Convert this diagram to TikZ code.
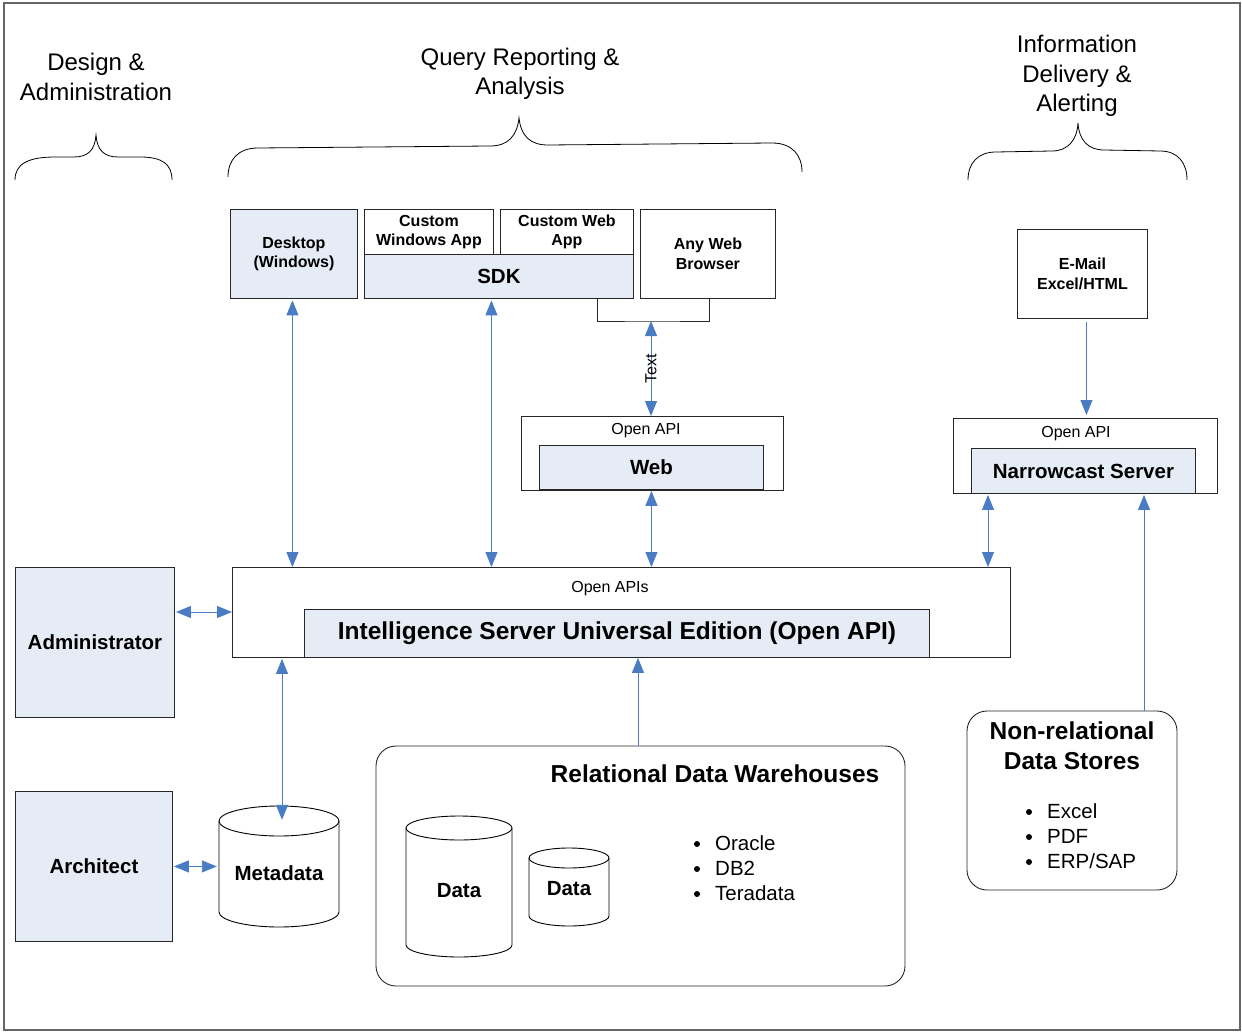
\documentclass[tikz,border=0pt]{standalone}
\usepackage{fontspec}
\setmainfont{Liberation Sans}
\usetikzlibrary{arrows.meta,calc}
\definecolor{lb}{HTML}{E6ECF6}
\definecolor{ab}{HTML}{4A7CC4}
\newcommand{\fs}[1]{\fontsize{#1}{1.22\dimexpr #1pt\relax}\selectfont}
\tikzset{
  box/.style={draw=black!85, line width=0.9pt, inner sep=0pt, anchor=north west, align=center},
  bluebox/.style={box, fill=lb},
  small/.style={font=\fs{16}\bfseries},
  big/.style={font=\fs{20.5}\bfseries},
  lbl/.style={font=\fs{16}, inner sep=0pt},
  head/.style={font=\fs{24}, align=center, inner sep=0pt},
  brace/.style={draw=black, line width=0.8pt},
  tip/.tip={Triangle[length=15pt,width=12pt]},
  dbl/.style={draw=ab, line width=0.9pt, tip-tip},
  sgl/.style={draw=ab, line width=0.9pt, -tip},
  cyl/.style={draw=black, line width=0.9pt, fill=white},
  item/.style={font=\fs{20.5}, anchor=west, inner sep=0pt, text height=14pt, text depth=4pt},
  bul/.style={fill=black}
}
\begin{document}
\begin{tikzpicture}[x=1pt,y=-1pt]
\useasboundingbox (0,0) rectangle (1242,1032);
\draw[black!60, line width=1.2pt] (4,3) rectangle (1240,1030);

% headings
\node[head] (h1) at (96,77) {Design \&\\Administration};
\node[head] (h2) at (520,74) {Query Reporting \&\\Analysis};
\node[head] (h3) at (1077,76) {Information\\Delivery \&\\Alerting};

% braces
\draw[brace] (15,180) .. controls (15,164) and (28,157) .. (55,157) -- (74,157)
  .. controls (88,157) and (95,150) .. (96,135)
  .. controls (97,150) and (104,157) .. (118,157) -- (140,157)
  .. controls (162,157) and (172,164) .. (172,180);
\draw[brace] (228,177) .. controls (228,160) and (238,148) .. (258,148) -- (490,146)
  .. controls (508,146) and (517,136) .. (519,118)
  .. controls (521,136) and (530,145) .. (548,145) -- (772,143)
  .. controls (792,143) and (802,155) .. (802,172);
\draw[brace] (968,180) .. controls (968,163) and (978,152) .. (996,152) -- (1052,151)
  .. controls (1068,151) and (1077,140) .. (1078,123)
  .. controls (1079,140) and (1088,150) .. (1104,150) -- (1160,151)
  .. controls (1178,151) and (1187,163) .. (1187,180);

% top row
\node[bluebox, small, minimum width=127pt, minimum height=89pt] (desk) at (230,209) {Desktop\\(Windows)};
\node[box, small, minimum width=129pt, minimum height=45pt] (cwa) at (364,209) {Custom\\Windows App};
\node[box, small, minimum width=133pt, minimum height=45pt] (cweb) at (500,209) {Custom Web\\App};
\node[bluebox, big, minimum width=269pt, minimum height=44pt] (sdk) at (364,254) {SDK};
\node[box, small, minimum width=135pt, minimum height=89pt] (awb) at (640,209) {Any Web\\Browser};

% web
\node[box, minimum width=262pt, minimum height=74pt] (webo) at (521,416) {};
\node[lbl] (webapi) at (646,431) {Open API};
\node[bluebox, big, minimum width=224pt, minimum height=44pt] (web) at (539,445) {Web};

% narrowcast
\node[box, small, minimum width=130pt, minimum height=89pt] (mail) at (1017,229) {E-Mail\\Excel/HTML};
\node[box, minimum width=264pt, minimum height=75pt] (nco) at (953,418) {};
\node[lbl] (ncapi) at (1076,434) {Open API};
\node[bluebox, big, minimum width=224pt, minimum height=45pt] (nc) at (971,448) {Narrowcast Server};

% intelligence server
\node[box, minimum width=778pt, minimum height=90pt] (iso) at (232,567) {};
\node[lbl] (isapi) at (610,589) {Open APIs};
\node[bluebox, font=\fs{24.5}\bfseries, minimum width=625pt, minimum height=48pt] (is) at (304,609) {Intelligence Server Universal Edition (Open API)};

% left column
\node[bluebox, big, minimum width=159pt, minimum height=150pt] (admin) at (15,567) {Administrator};
\node[bluebox, big, minimum width=157pt, minimum height=150pt] (arch) at (15,791) {Architect};

% metadata cylinder
\draw[cyl] (219,821) -- (219,912) arc[start angle=180,end angle=360,x radius=60pt,y radius=15pt] -- (339,821);
\draw[cyl] (279,821) ellipse[x radius=60pt,y radius=15pt];
\node[big, minimum width=120pt, minimum height=120pt, inner sep=0pt] (meta) at (279,866) {};
\node[big] (metat) at (279,873) {Metadata};

% relational data warehouses
\draw[black!85, line width=0.9pt, rounded corners=20pt] (376,746) rectangle (905,986);
\node[minimum width=529pt, minimum height=240pt, inner sep=0pt] (rdw) at (640.5,866) {};
\node[font=\fs{24.5}\bfseries, inner sep=0pt] (rdwt) at (715,774) {Relational Data Warehouses};

\draw[cyl] (406,828) -- (406,945) arc[start angle=180,end angle=360,x radius=53pt,y radius=12pt] -- (512,828);
\draw[cyl] (459,828) ellipse[x radius=53pt,y radius=12pt];
\node[big, inner sep=0pt] (d1) at (459,891) {Data};

\draw[cyl] (529,858) -- (529,916) arc[start angle=180,end angle=360,x radius=40pt,y radius=10pt] -- (609,858);
\draw[cyl] (569,858) ellipse[x radius=40pt,y radius=10pt];
\node[big, inner sep=0pt] (d2) at (569,889) {Data};

\node[item] (rl1) at (715,845) {Oracle};
\node[item] (rl2) at (715,870) {DB2};
\node[item] (rl3) at (715,895) {Teradata};
\foreach \n in {rl1,rl2,rl3} \fill[bul] ([xshift=-18pt,yshift=1pt]\n.west) circle (3pt);

% non-relational
\draw[black!85, line width=0.9pt, rounded corners=20pt] (967,711) rectangle (1177,890);
\node[minimum width=210pt, minimum height=179pt, inner sep=0pt] (nrel) at (1072,800.5) {};
\node[font=\fs{24.5}\bfseries, align=center, inner sep=0pt] (nrelt) at (1072,746) {Non-relational\\Data Stores};
\node[item] (nl1) at (1047,813) {Excel};
\node[item] (nl2) at (1047,838) {PDF};
\node[item] (nl3) at (1047,863) {ERP/SAP};
\foreach \n in {nl1,nl2,nl3} \fill[bul] ([xshift=-18pt,yshift=1pt]\n.west) circle (3pt);

% SDK / browser bracket
\coordinate (brk) at (651,321);
\draw[black!85, line width=0.8pt] ([xshift=-37pt]sdk.south east) |- (brk) -| ([xshift=1.5pt]awb.south);

% connectors
\draw[dbl, shorten <=1.5pt] ([xshift=-1.5pt]desk.south) -- ([xshift=-1.5pt]desk.south |- iso.north);
\draw[dbl, shorten <=1.5pt] ([xshift=-7.5pt]sdk.south) -- ([xshift=-7.5pt]sdk.south |- iso.north);
\draw[dbl] (brk) -- (brk |- webo.north) node[midway, lbl, rotate=90] (txt) {Text};
\draw[dbl, shorten <=1pt] (web.south) -- (web.south |- iso.north);
\draw[dbl, shorten <=1pt] ([xshift=35pt]nco.south west) -- ([xshift=35pt]nco.south west |- iso.north);
\draw[dbl, shorten <=1pt] ([yshift=-45pt]admin.north east) -- ([yshift=-45pt]admin.north east -| iso.west);
\draw[dbl, shorten <=1pt, shorten >=2pt] (arch.east) -- (arch.east -| meta.west);
\draw[dbl, shorten <=1pt] ([xshift=3pt]meta.north |- iso.south) -- ([xshift=3pt,yshift=-14pt]meta.north);
\draw[sgl] ([xshift=-2.5pt]rdw.north) -- ([xshift=-2.5pt]rdw.north |- iso.south);
\draw[sgl, shorten >=1pt] ([xshift=72pt]nrel.north) -- ([xshift=72pt]nrel.north |- nco.south);
\draw[sgl, shorten <=3pt, shorten >=3pt] ([xshift=4pt]mail.south) -- ([xshift=4pt]mail.south |- nco.north);
\end{tikzpicture}
\end{document}
